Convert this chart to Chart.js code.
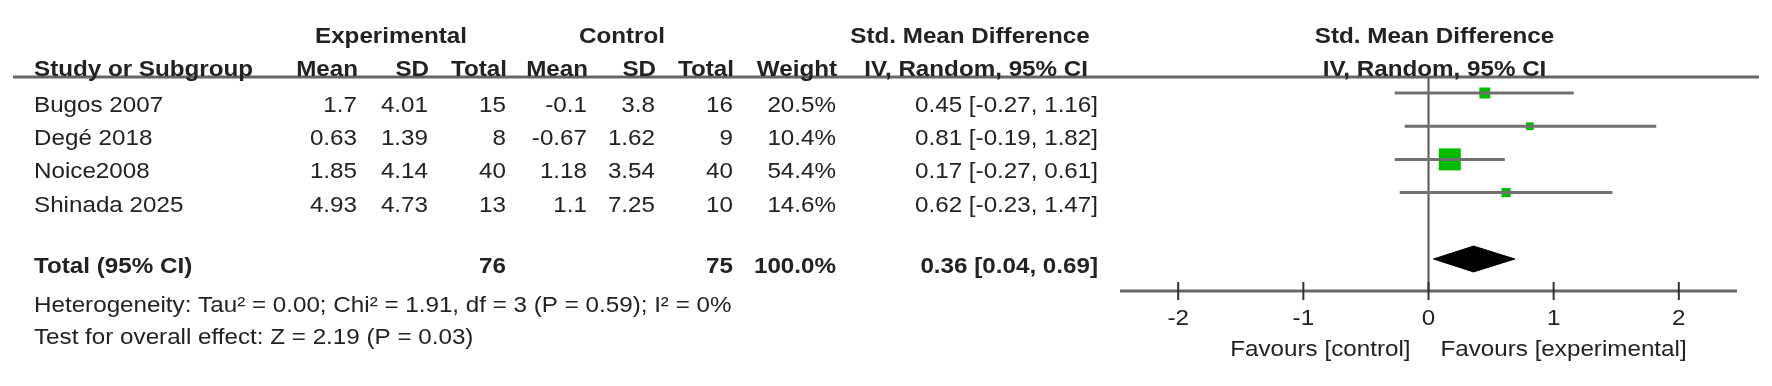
<!DOCTYPE html>
<html>
<head>
<meta charset="utf-8">
<script src="https://cdn.jsdelivr.net/npm/chart.js@4.4.1/dist/chart.umd.min.js"></script>
<style>
  html, body { margin: 0; padding: 0; background: #fff; }
  canvas { display: block; }
</style>
</head>
<body>
<canvas id="forest" width="1772" height="386"></canvas>
<script>
// forest plot: std. mean difference, IV random

const studies   = ["Bugos 2007", "Degé 2018", "Noice2008", "Shinada 2025"];
const expMean   = [1.7, 0.63, 1.85, 4.93];
const expSD     = [4.01, 1.39, 4.14, 4.73];
const expN      = [15, 8, 40, 13];
const ctrlMean  = [-0.1, -0.67, 1.18, 1.1];
const ctrlSD    = [3.8, 1.62, 3.54, 7.25];
const ctrlN     = [16, 9, 40, 10];
const weights   = [20.5, 10.4, 54.4, 14.6];
const smd       = [0.45, 0.81, 0.17, 0.62];
const ciLow     = [-0.27, -0.19, -0.27, -0.23];
const ciHigh    = [1.16, 1.82, 0.61, 1.47];

const totalLabel = "Total (95% CI)";
const totalExpN  = 76;
const totalCtrlN = 75;
const totalWeight = 100.0;
const totalSmd   = 0.36;
const totalLow   = 0.04;
const totalHigh  = 0.69;

const tickValues = [-2, -1, 0, 1, 2];
const heterogeneity = "Heterogeneity: Tau\u00b2 = 0.00; Chi\u00b2 = 1.91, df = 3 (P = 0.59); I\u00b2 = 0%";
const overallTest = "Test for overall effect: Z = 2.19 (P = 0.03)";
const favoursLeft = "Favours [control]";
const favoursRight = "Favours [experimental]";

const FONT = '"Liberation Sans", Arial, sans-serif';
const SX = 1.1;          // text in the picture is a bit wide
const TEXT = "#222";
const totalRow = studies.length + 1;

function txt(ctx, s, x, y, align, bold) {
  ctx.save();
  ctx.font = (bold ? "bold " : "") + "22px " + FONT;
  ctx.fillStyle = TEXT;
  ctx.textBaseline = "middle";
  ctx.textAlign = align;
  ctx.translate(x, y);
  ctx.scale(SX, 1);
  ctx.fillText(s, 0, 0);
  ctx.restore();
}

function ciText(e, lo, hi) {
  return e.toFixed(2) + " [" + lo.toFixed(2) + ", " + hi.toFixed(2) + "]";
}

const decor = {
  id: "decor",
  beforeDatasetsDraw(chart) {
    const ctx = chart.ctx, x = chart.scales.x, area = chart.chartArea;
    ctx.save();
    // header rule
    ctx.strokeStyle = "#666";
    ctx.lineWidth = 3;
    ctx.beginPath();
    ctx.moveTo(13, area.top);
    ctx.lineTo(1759, area.top);
    ctx.stroke();
    // axis
    ctx.beginPath();
    ctx.moveTo(x.getPixelForValue(x.min), area.bottom);
    ctx.lineTo(x.getPixelForValue(x.max), area.bottom);
    ctx.stroke();
    // zero line
    ctx.strokeStyle = "#555";
    ctx.lineWidth = 2;
    ctx.beginPath();
    ctx.moveTo(x.getPixelForValue(0), area.top);
    ctx.lineTo(x.getPixelForValue(0), area.bottom);
    ctx.stroke();
    // ticks
    ctx.strokeStyle = "#333";
    tickValues.forEach(v => {
      const px = x.getPixelForValue(v);
      ctx.beginPath();
      ctx.moveTo(px, area.bottom - 9);
      ctx.lineTo(px, area.bottom + 9);
      ctx.stroke();
    });
    ctx.restore();
  },
  afterDraw(chart) {
    const ctx = chart.ctx, x = chart.scales.x, y = chart.scales.y, area = chart.chartArea;
    const cols = [357, 428, 506, 587, 655, 733, 836, 1098];
    const midX = x.getPixelForValue(0) + 6;

    // group headers
    txt(ctx, "Experimental", 391, 37, "center", true);
    txt(ctx, "Control", 622, 37, "center", true);
    txt(ctx, "Std. Mean Difference", 970, 37, "center", true);
    txt(ctx, "Std. Mean Difference", midX, 37, "center", true);

    // column headers
    txt(ctx, "Study or Subgroup", 34, 70, "left", true);
    ["Mean", "SD", "Total", "Mean", "SD", "Total", "Weight"].forEach((h, k) => {
      txt(ctx, h, cols[k] + 1, 70, "right", true);
    });
    txt(ctx, "IV, Random, 95% CI", 1088, 70, "right", true);
    txt(ctx, "IV, Random, 95% CI", midX, 70, "center", true);

    // study rows
    studies.forEach((s, i) => {
      const py = y.getPixelForValue(i) + 13;
      txt(ctx, s, 34, py, "left", false);
      const vals = [String(expMean[i]), String(expSD[i]), String(expN[i]),
                    String(ctrlMean[i]), String(ctrlSD[i]), String(ctrlN[i]),
                    weights[i].toFixed(1) + "%", ciText(smd[i], ciLow[i], ciHigh[i])];
      vals.forEach((v, k) => txt(ctx, v, cols[k], py, "right", false));
    });

    // total row
    const ty = y.getPixelForValue(totalRow) + 8;
    txt(ctx, totalLabel, 34, ty, "left", true);
    txt(ctx, String(totalExpN), cols[2], ty, "right", true);
    txt(ctx, String(totalCtrlN), cols[5], ty, "right", true);
    txt(ctx, totalWeight.toFixed(1) + "%", cols[6], ty, "right", true);
    txt(ctx, ciText(totalSmd, totalLow, totalHigh), cols[7], ty, "right", true);

    txt(ctx, heterogeneity, 34, 306, "left", false);
    txt(ctx, overallTest, 34, 338, "left", false);

    // axis labels
    tickValues.forEach(v => txt(ctx, String(v), x.getPixelForValue(v), area.bottom + 28, "center", false));
    txt(ctx, favoursLeft, x.getPixelForValue(0) - 18, area.bottom + 59, "right", false);
    txt(ctx, favoursRight, x.getPixelForValue(0) + 12, area.bottom + 59, "left", false);
  }
};

const datasets = [];
studies.forEach((s, i) => {
  datasets.push({
    label: s + " CI",
    data: [{ x: ciLow[i], y: i }, { x: ciHigh[i], y: i }],
    showLine: true,
    borderColor: "#707070",
    borderWidth: 3,
    pointRadius: 0
  });
});
datasets.push({
  label: "SMD",
  data: smd.map((v, i) => ({ x: v, y: i })),
  pointStyle: "rect",
  pointRadius: weights.map(w => (4.35 + 0.3245 * w) / Math.SQRT2),
  backgroundColor: "#00bb00",
  borderWidth: 0
});
const dh = 0.39;
datasets.push({
  label: "Total",
  data: [
    { x: totalLow, y: totalRow },
    { x: totalSmd, y: totalRow - dh },
    { x: totalHigh, y: totalRow },
    { x: totalSmd, y: totalRow + dh },
    { x: totalLow, y: totalRow }
  ],
  showLine: true,
  fill: "shape",
  backgroundColor: "#000",
  borderColor: "#000",
  borderWidth: 1,
  pointRadius: 0
});

new Chart(document.getElementById("forest"), {
  type: "scatter",
  data: { datasets: datasets },
  options: {
    responsive: false,
    animation: false,
    devicePixelRatio: 1,
    layout: { padding: { left: 1120, right: 35, top: 77, bottom: 95 } },
    plugins: { legend: { display: false }, tooltip: { enabled: false } },
    scales: {
      x: { type: "linear", min: -2.465, max: 2.465, display: false },
      y: { type: "linear", min: -0.482, max: 5.964, reverse: true, display: false }
    }
  },
  plugins: [decor]
});
</script>
</body>
</html>
